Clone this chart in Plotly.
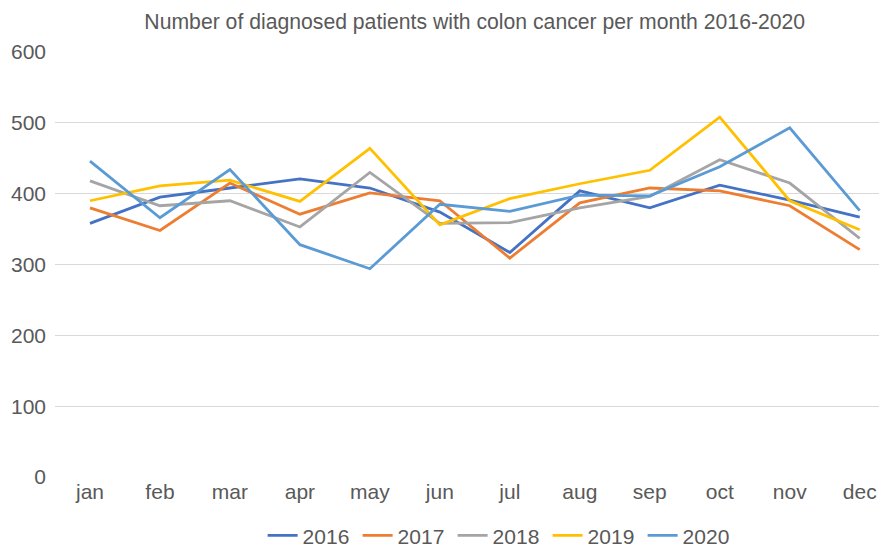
import plotly.graph_objects as go

months = ["jan", "feb", "mar", "apr", "may", "jun", "jul", "aug", "sep", "oct", "nov", "dec"]
y2016 = [358, 395, 408, 421, 408, 374, 317, 404, 380, 412, 391, 367]
y2017 = [380, 348, 415, 371, 401, 390, 309, 387, 408, 404, 383, 321]
y2018 = [418, 383, 390, 353, 430, 358, 359, 380, 396, 448, 415, 337]
y2019 = [390, 411, 419, 389, 464, 356, 393, 414, 433, 508, 390, 349]
y2020 = [446, 366, 434, 328, 294, 385, 375, 398, 397, 438, 493, 376]

series = [("2016", y2016, "#4472C4"), ("2017", y2017, "#ED7D31"),
          ("2018", y2018, "#A5A5A5"), ("2019", y2019, "#FFC000"),
          ("2020", y2020, "#5B9BD5")]

font_family = "Liberation Sans, Arial, sans-serif"
fig = go.Figure()
for name, vals, col in series:
    fig.add_trace(go.Scatter(x=months, y=vals, name=name, mode="lines",
                             line=dict(color=col, width=2.8)))

# page body has an 8px default margin: figure is sized to fill the rest of the window
fig.update_layout(
    width=879, height=541,
    margin=dict(l=47, r=0, t=44, b=72, autoexpand=False),
    paper_bgcolor="white", plot_bgcolor="white",
    font=dict(family=font_family, color="#595959", size=21),
    title=dict(text="Number of diagnosed patients with colon cancer per month 2016-2020",
               x=0.531, xanchor="center", xref="container", y=0.974, yanchor="middle",
               font=dict(size=21.2, color="#595959")),
    xaxis=dict(range=[-0.5, 11.39], showgrid=False, showline=False, zeroline=False,
               tickfont=dict(size=21), ticks="", automargin=False),
    yaxis=dict(range=[0, 600], dtick=100, showgrid=True, gridcolor="#D9D9D9",
               gridwidth=1, zeroline=False, showline=False, ticks="",
               tickfont=dict(size=21), ticklabelstandoff=8, automargin=False),
    legend=dict(orientation="h", x=0.535, xanchor="center", y=-0.138, yanchor="middle",
                font=dict(size=21), itemwidth=30, tracegroupgap=0, entrywidth=50),
    showlegend=True,
)

fig.write_html("out.html")
